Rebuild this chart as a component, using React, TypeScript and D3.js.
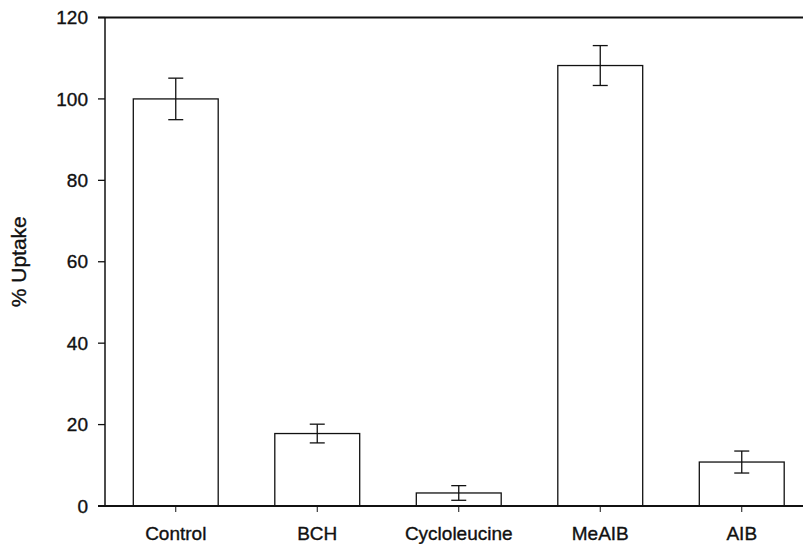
import React from "react";
import * as d3 from "d3";

const categories = ["Control", "BCH", "Cycloleucine", "MeAIB", "AIB"];
const values = [100, 17.8, 3.2, 108.2, 10.8];
const errors = [5.1, 2.3, 1.8, 4.9, 2.7];
const yTicks = [0, 20, 40, 60, 80, 100, 120];

const W = 803;
const H = 544;
const axisX = 105;
const y0 = 506;
const yTop = 17.5;

export default function App() {
  const x = d3
    .scaleBand<string>()
    .domain(categories)
    .range([axisX, axisX + 141.5 * 5])
    .paddingInner(0.4)
    .paddingOuter(0.2);
  const y = d3.scaleLinear().domain([0, 120]).range([y0, yTop]);
  const font = "'Liberation Sans', Arial, sans-serif";
  const cap = 7.5;
  const textStroke = { stroke: "#111", strokeWidth: 0.35 };

  return (
    <svg
      width={W}
      height={H}
      style={{ position: "absolute", left: 0, top: 0, background: "#fff" }}
      fontFamily={font}
    >
      {/* bars */}
      {categories.map((c, i) => {
        const bx = x(c)!;
        const bw = x.bandwidth();
        const cx = bx + bw / 2;
        const v = values[i];
        const e = errors[i];
        return (
          <g key={c}>
            <rect
              x={bx}
              y={y(v)}
              width={bw}
              height={y0 - y(v)}
              fill="#fff"
              stroke="#111"
              strokeWidth={1.3}
            />
            <line x1={cx} x2={cx} y1={y(v + e)} y2={y(v - e)} stroke="#111" strokeWidth={1.3} />
            <line x1={cx - cap} x2={cx + cap} y1={y(v + e)} y2={y(v + e)} stroke="#111" strokeWidth={1.3} />
            <line x1={cx - cap} x2={cx + cap} y1={y(v - e)} y2={y(v - e)} stroke="#111" strokeWidth={1.3} />
            <line x1={cx} x2={cx} y1={y0} y2={y0 + 6} stroke="#111" strokeWidth={1} />
            <text
              x={cx}
              y={y0 + 34}
              textAnchor="middle"
              fontSize={19}
              fill="#111"
              {...textStroke}
            >
              {c}
            </text>
          </g>
        );
      })}
      {/* y axis */}
      <line x1={axisX} x2={axisX} y1={yTop} y2={y0} stroke="#111" strokeWidth={1.5} />
      {yTicks.map((t) => (
        <g key={t}>
          <line x1={axisX - 7} x2={axisX} y1={y(t)} y2={y(t)} stroke="#111" strokeWidth={1.3} />
          <text
            x={axisX - 17}
            y={y(t)}
            dy="0.35em"
            textAnchor="end"
            fontSize={19}
            fill="#111"
            {...textStroke}
          >
            {t}
          </text>
        </g>
      ))}
      {/* frame lines */}
      <line x1={axisX - 7} x2={W} y1={yTop} y2={yTop} stroke="#111" strokeWidth={2} />
      <line x1={axisX - 7} x2={W} y1={y0} y2={y0} stroke="#111" strokeWidth={1.8} />
      {/* y title */}
      <text
        transform={`translate(26, ${(yTop + y0) / 2}) rotate(-90)`}
        textAnchor="middle"
        fontSize={21}
        fill="#111"
        {...textStroke}
      >
        % Uptake
      </text>
    </svg>
  );
}
